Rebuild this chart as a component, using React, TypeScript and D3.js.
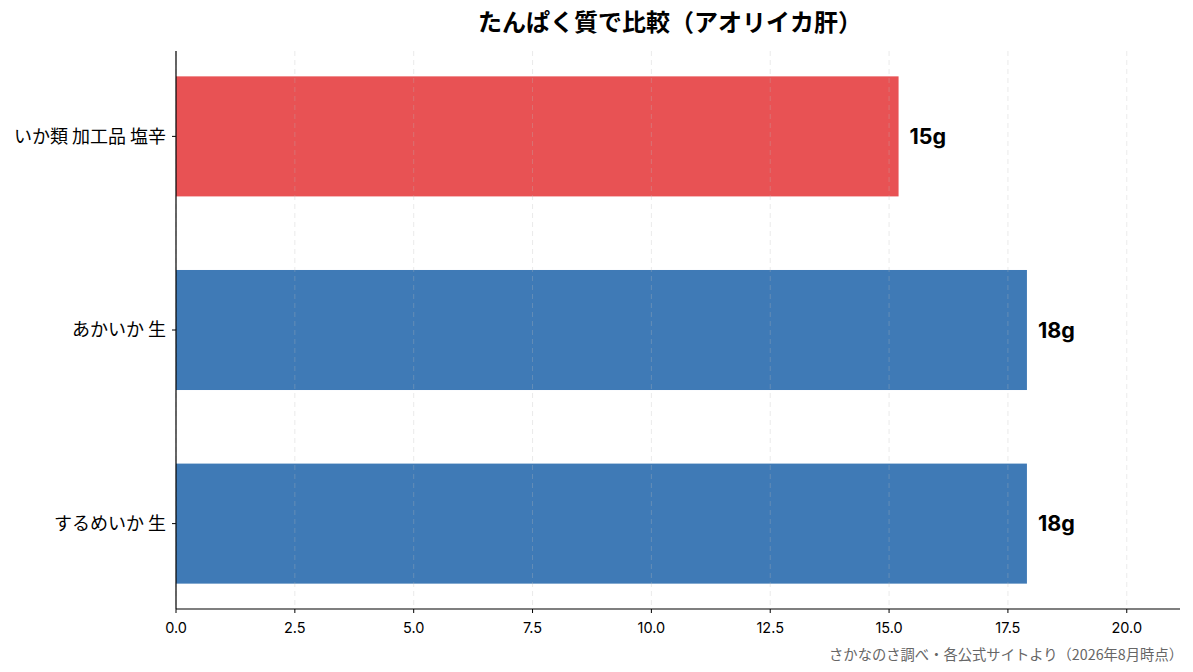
import React from "react";
import * as d3 from "d3";

const categories = ["するめいか 生", "あかいか 生", "いか類 加工品 塩辛"];
const values = [17.9, 17.9, 15.2];
const valueLabels = ["18g", "18g", "15g"];
const highlight = [false, false, true];
const xTicks = [0, 2.5, 5, 7.5, 10, 12.5, 15, 17.5, 20];
const title = "たんぱく質で比較（アオリイカ肝）";
const footer = "さかなのさ調べ・各公式サイトより（2026年8月時点）";

const W = 1193;
const H = 672;
const M = { left: 176, right: 1180, top: 51, bottom: 609 };
const FONT = "'Noto Sans CJK JP', 'Noto Sans', sans-serif";
const NUM_FONT = "Inter, 'Noto Sans CJK JP', sans-serif";

export default function App() {
  const x = d3.scaleLinear().domain([0, 21.12]).range([M.left, M.right]);
  const barH = 0.62;
  const y = d3
    .scaleLinear()
    .domain([-0.441, categories.length - 1 + 0.441])
    .range([M.bottom, M.top]);

  return (
    <svg
      width={W}
      height={H}
      style={{ position: "absolute", left: 0, top: 0, background: "#fff" }}
      fontFamily={FONT}
    >
      <text
        x={670}
        y={31}
        textAnchor="middle"
        fontSize={24}
        fontWeight="bold"
        fill="#000"
      >
        {title}
      </text>

      {categories.map((c, i) => {
        const y0 = y(i + barH / 2);
        const y1 = y(i - barH / 2);
        return (
          <g key={c}>
            <rect
              x={x(0)}
              y={y0}
              width={x(values[i]) - x(0)}
              height={y1 - y0}
              fill={highlight[i] ? "#E85254" : "#3F7AB6"}
            />
            <text
              x={x(values[i]) + 11}
              y={y(i)}
              dy="0.36em"
              fontSize={21.5}
              fontWeight="bold"
              fontFamily={NUM_FONT}
              fill="#000"
            >
              {valueLabels[i]}
            </text>
            <line x1={M.left - 4} x2={M.left} y1={y(i)} y2={y(i)} stroke="#000" />
            <text
              x={M.left - 10}
              y={y(i)}
              dy="0.35em"
              textAnchor="end"
              fontSize={18}
              fill="#000"
            >
              {c}
            </text>
          </g>
        );
      })}

      {xTicks.map((t) => (
        <g key={t}>
          <line
            x1={x(t)}
            x2={x(t)}
            y1={M.top}
            y2={M.bottom}
            stroke="#bbb"
            strokeOpacity={0.3}
            strokeDasharray="5,4"
          />
          <line x1={x(t)} x2={x(t)} y1={M.bottom} y2={M.bottom + 4} stroke="#000" />
          <text
            x={x(t)}
            y={M.bottom + 19}
            dy="0.36em"
            textAnchor="middle"
            fontSize={14.5}
            fontFamily={NUM_FONT}
            fill="#000"
          >
            {t.toFixed(1)}
          </text>
        </g>
      ))}

      <line x1={M.left} x2={M.left} y1={M.top} y2={M.bottom} stroke="#000" strokeWidth={1.2} />
      <line x1={M.left} x2={M.right} y1={M.bottom} y2={M.bottom} stroke="#000" strokeWidth={1.2} />

      <text x={1183} y={660} textAnchor="end" fontSize={14.3} fill="#666">
        {footer}
      </text>
    </svg>
  );
}
